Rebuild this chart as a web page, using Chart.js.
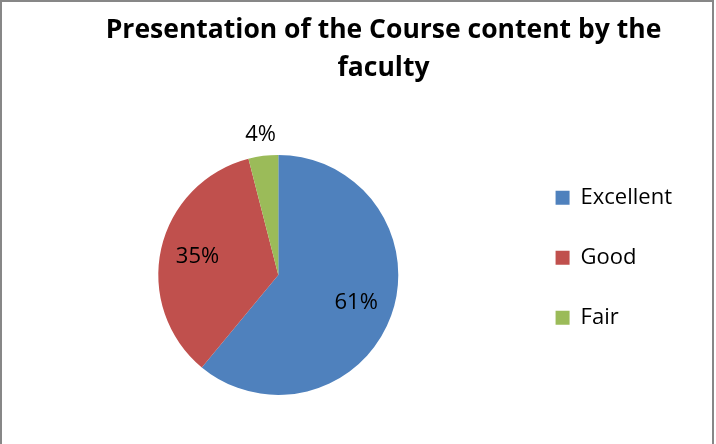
<!DOCTYPE html>
<html>
<head>
<meta charset="utf-8">
<script src="https://cdn.jsdelivr.net/npm/chart.js@4.4.0/dist/chart.umd.min.js"></script>
<style>
  html, body { margin: 0; padding: 0; background: #fff; }
  #wrap { width: 716px; height: 444px; }
</style>
</head>
<body>
<div id="wrap"><canvas id="chart" width="716" height="444"></canvas></div>
<script>
const categories = ['Excellent', 'Good', 'Fair'];
const shares = [61, 35, 4];
const sliceColors = ['#4F81BD', '#C0504D', '#9BBB59'];
const titleLines = ['Presentation of the Course content by the', 'faculty'];

const FONT = '"Open Sans", Lato, sans-serif';

// grey frame round the chart like the office export
const frame = {
  id: 'frame',
  beforeDraw(chart) {
    const ctx = chart.ctx;
    ctx.save();
    ctx.fillStyle = '#fff';
    ctx.fillRect(0, 0, chart.width, chart.height);
    ctx.strokeStyle = '#878787';
    ctx.lineWidth = 2;
    ctx.strokeRect(1, 1, 712, 500);
    ctx.restore();
  }
};

// title sits a bit right of the canvas centre in the original
const titleNudge = {
  id: 'titleNudge',
  afterLayout(chart) {
    chart.titleBlock.left += 23;
    chart.titleBlock.right += 23;
  }
};

// percentage labels, small slices go outside
const pctLabels = {
  id: 'pctLabels',
  afterDatasetsDraw(chart) {
    const ctx = chart.ctx;
    const meta = chart.getDatasetMeta(0);
    ctx.save();
    ctx.font = '22px ' + FONT;
    ctx.fillStyle = '#000';
    ctx.textAlign = 'center';
    ctx.textBaseline = 'middle';
    meta.data.forEach((arc, i) => {
      const p = arc.getProps(['x', 'y', 'startAngle', 'endAngle', 'outerRadius'], true);
      const mid = (p.startAngle + p.endAngle) / 2;
      const d = shares[i] < 10 ? p.outerRadius + 21 : p.outerRadius * 0.69;
      ctx.fillText(shares[i] + '%', p.x + Math.cos(mid) * d, p.y + Math.sin(mid) * d);
    });
    ctx.restore();
  }
};

new Chart(document.getElementById('chart'), {
  type: 'pie',
  data: {
    labels: categories,
    datasets: [{
      data: shares,
      backgroundColor: sliceColors,
      borderWidth: 0,
      radius: 120
    }]
  },
  options: {
    responsive: false,
    animation: false,
    layout: { padding: { left: 39, right: 34, top: 0, bottom: 43 } },
    plugins: {
      title: {
        display: true,
        text: titleLines,
        color: '#000',
        font: { family: FONT, size: 26.5, weight: 'bold', lineHeight: 1.45 },
        padding: { top: 11, bottom: 61 }
      },
      legend: {
        position: 'right',
        align: 'start',
        fullSize: false,
        labels: {
          boxWidth: 14,
          boxHeight: 14,
          padding: 38,
          color: '#000',
          font: { family: FONT, size: 22 }
        }
      },
      tooltip: { enabled: false }
    }
  },
  plugins: [frame, titleNudge, pctLabels]
});
</script>
</body>
</html>
